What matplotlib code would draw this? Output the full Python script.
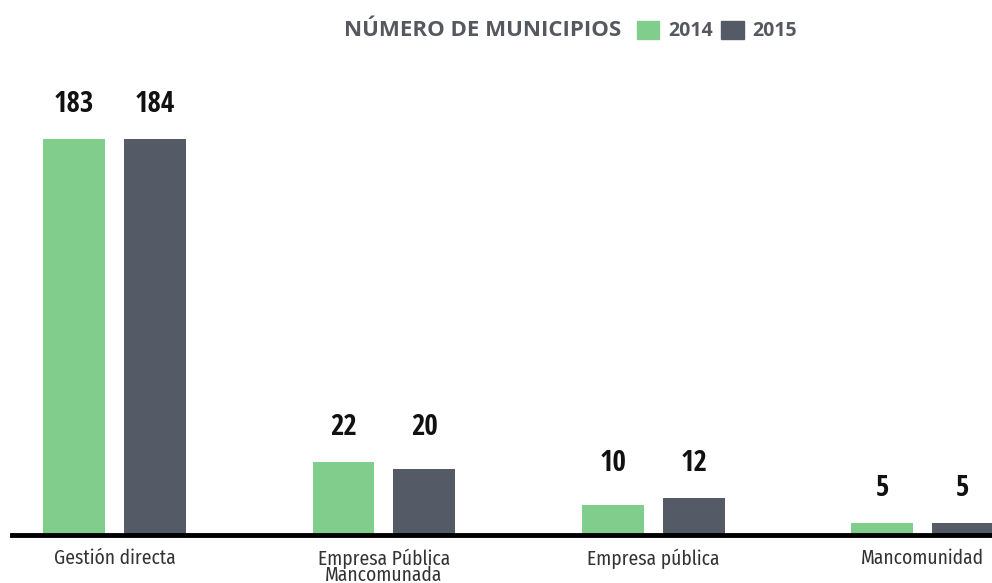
import numpy as np
import matplotlib
matplotlib.use("Agg")
import matplotlib.pyplot as plt
from matplotlib.patches import Patch

categories = ["Gestión directa", "Empresa Pública\nMancomunada", "Empresa pública", "Mancomunidad"]
years = ["2014", "2015"]
values_2014 = [183, 22, 10, 5]
values_2015 = [184, 20, 12, 5]

GREEN = "#80cd8c"
DARK = "#545b66"
GRAY = "#55595f"

plt.rcParams["font.family"] = ["Open Sans Condensed", "DejaVu Sans"]

fig = plt.figure(figsize=(9.92, 5.83), dpi=100)
ax = fig.add_axes([12 / 992, 48 / 583, 980 / 992, 396 / 583])

x = np.arange(len(categories))
w = 0.23
off = 0.15
b1 = ax.bar(x - off, values_2014, w, color=GREEN, label=years[0])
b2 = ax.bar(x + off, values_2015, w, color=DARK, label=years[1])

# the original truncates the two big bars at the top of the plot
ymin, ymax = 1.7, 112
ax.set_ylim(ymin, ymax)
ax.set_xlim(-0.381, 3.258)

# both labels of a group sit on one line above the taller (visible) bar
for i in range(len(categories)):
    top = min(max(values_2014[i], values_2015[i]), ymax)
    for xi, v in ((x[i] - off, values_2014[i]), (x[i] + off, values_2015[i])):
        ax.annotate(str(v), (xi, top), xytext=(0, 25), textcoords="offset points",
                    ha="center", va="center", fontsize=21, fontweight="bold",
                    color="#111111", annotation_clip=False)

ax.set_yticks([])
ax.set_xticks(x)
ax.set_xticklabels(categories, fontsize=14, fontweight="normal", color="#333333",
                   family=["Fira Sans Condensed", "DejaVu Sans"],
                   linespacing=0.72, va="top")
ax.tick_params(axis="x", length=0, pad=10)
for name, s in ax.spines.items():
    s.set_visible(name == "bottom")
ax.spines["bottom"].set_linewidth(3.5)
ax.spines["bottom"].set_color("black")

fig.text(0.487, 1 - 30 / 583, "NÚMERO DE MUNICIPIOS", ha="center", va="center",
         fontsize=16, fontweight="bold", color=GRAY, family=["Open Sans", "DejaVu Sans"])
handles = [Patch(color=GREEN, label=years[0]), Patch(color=DARK, label=years[1])]
leg = fig.legend(handles=handles, ncol=2, loc="center left",
                 bbox_to_anchor=(637 / 992, 1 - 31 / 583), frameon=False,
                 prop={"family": "Open Sans", "weight": "bold", "size": 14},
                 handlelength=1.15, handleheight=1.1,
                 handletextpad=0.45, columnspacing=0.45, borderpad=0, borderaxespad=0)
for t in leg.get_texts():
    t.set_color(GRAY)

fig.savefig("out.png", dpi=100)
